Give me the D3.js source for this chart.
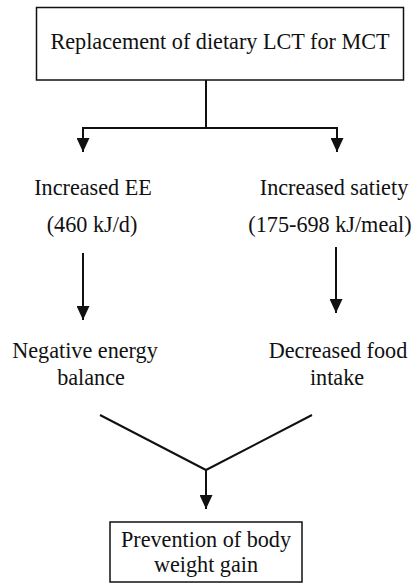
<!DOCTYPE html>
<html>
<head>
<meta charset="utf-8">
<script src="https://cdn.jsdelivr.net/npm/d3@7"></script>
<style>
  body { margin: 0; background: #fff; }
  svg text { font-family: "Liberation Serif", "Times New Roman", Times, serif; fill: #111; }
</style>
</head>
<body>
<svg id="chart"></svg>
<script>
const sourceLabel = ["Replacement of dietary LCT for MCT"];
const effectLabels = ["Increased EE", "Increased satiety"];
const amountLabels = ["(460 kJ/d)", "(175-698 kJ/meal)"];
const outcomeLabels = [["Negative energy", "balance"], ["Decreased food", "intake"]];
const resultLabel = ["Prevention of body", "weight gain"];
const branches = ["left", "right"];

const w = 420;
const h = 584;
const fs = 22.2;

const svg = d3.select("#chart")
  .attr("width", w)
  .attr("height", h);

// column positions for the arrows
const x = d3.scaleOrdinal()
  .domain(["left", "center", "right"])
  .range([83, 206, 337]);

// text centres per row and branch
const xEffect = d3.scaleOrdinal().domain(branches).range([93, 334]);
const xAmount = d3.scaleOrdinal().domain(branches).range([92, 330]);
const xOut1 = d3.scaleOrdinal().domain(branches).range([85, 338]);
const xOut2 = d3.scaleOrdinal().domain(branches).range([91, 337]);

// row positions
const y = d3.scaleOrdinal()
  .domain(["boxTop", "boxBottom", "split", "tip1", "effect", "amount", "arrowTop", "tip2", "outcome1", "outcome2", "vTop", "vJoin", "tip3", "resTop", "resBottom"])
  .range([7.5, 80, 128, 152, 195, 232, 253, 320, 358, 385, 415, 470, 509, 522, 582]);

const defs = svg.append("defs");
defs.append("marker")
  .attr("id", "arrow")
  .attr("viewBox", "0 0 14 13")
  .attr("refX", 14)
  .attr("refY", 6.5)
  .attr("markerWidth", 14)
  .attr("markerHeight", 13)
  .attr("markerUnits", "userSpaceOnUse")
  .attr("orient", "auto")
  .append("path")
  .attr("d", "M0,0 L14,6.5 L0,13 Z")
  .attr("fill", "#111");

const line = d3.line();

// top box
svg.append("rect")
  .attr("x", 36.5)
  .attr("y", y("boxTop"))
  .attr("width", 367)
  .attr("height", y("boxBottom") - y("boxTop"))
  .attr("fill", "none")
  .attr("stroke", "#111")
  .attr("stroke-width", 1.5);

svg.selectAll(".src")
  .data(sourceLabel)
  .enter()
  .append("text")
  .attr("x", 220)
  .attr("y", 49)
  .attr("text-anchor", "middle")
  .attr("font-size", fs)
  .text(d => d);

// stem and split
svg.append("path")
  .attr("d", line([[x("center"), y("boxBottom")], [x("center"), y("split")]]))
  .attr("stroke", "#111").attr("stroke-width", 2).attr("fill", "none");

svg.append("path")
  .attr("d", line([[x("left") - 1, y("split")], [x("right") + 1, y("split")]]))
  .attr("stroke", "#111").attr("stroke-width", 2).attr("fill", "none");

const arrow = (x0, y0, y1) => svg.append("path")
  .attr("d", line([[x0, y0], [x0, y1]]))
  .attr("stroke", "#111")
  .attr("stroke-width", 2)
  .attr("fill", "none")
  .attr("marker-end", "url(#arrow)");

branches.forEach(b => arrow(x(b), y("split") - 1, y("tip1")));

svg.selectAll(".effect")
  .data(effectLabels)
  .enter()
  .append("text")
  .attr("x", (d, i) => xEffect(branches[i]))
  .attr("y", y("effect"))
  .attr("text-anchor", "middle")
  .attr("font-size", fs)
  .text(d => d);

svg.selectAll(".amount")
  .data(amountLabels)
  .enter()
  .append("text")
  .attr("x", (d, i) => xAmount(branches[i]))
  .attr("y", y("amount"))
  .attr("text-anchor", "middle")
  .attr("font-size", fs)
  .text(d => d);

arrow(x("left"), y("arrowTop"), y("tip2"));
arrow(x("right") - 1, y("arrowTop") - 6, y("tip2") - 7);

outcomeLabels.forEach((lines, i) => {
  svg.append("text")
    .attr("x", xOut1(branches[i]))
    .attr("y", y("outcome1"))
    .attr("text-anchor", "middle")
    .attr("font-size", fs)
    .text(lines[0]);
  svg.append("text")
    .attr("x", xOut2(branches[i]))
    .attr("y", y("outcome2"))
    .attr("text-anchor", "middle")
    .attr("font-size", fs)
    .text(lines[1]);
});

// converging lines
svg.append("path")
  .attr("d", line([[100, y("vTop")], [x("center"), y("vJoin")], [312, y("vTop")]]))
  .attr("stroke", "#111").attr("stroke-width", 2).attr("fill", "none");

arrow(x("center"), y("vJoin"), y("tip3"));

// result box
svg.append("rect")
  .attr("x", 110)
  .attr("y", y("resTop"))
  .attr("width", 192)
  .attr("height", y("resBottom") - y("resTop"))
  .attr("fill", "none")
  .attr("stroke", "#111")
  .attr("stroke-width", 1.5);

svg.selectAll(".res")
  .data(resultLabel)
  .enter()
  .append("text")
  .attr("x", x("center"))
  .attr("y", (d, i) => 547 + i * 25)
  .attr("text-anchor", "middle")
  .attr("font-size", fs)
  .text(d => d);
</script>
</body>
</html>
